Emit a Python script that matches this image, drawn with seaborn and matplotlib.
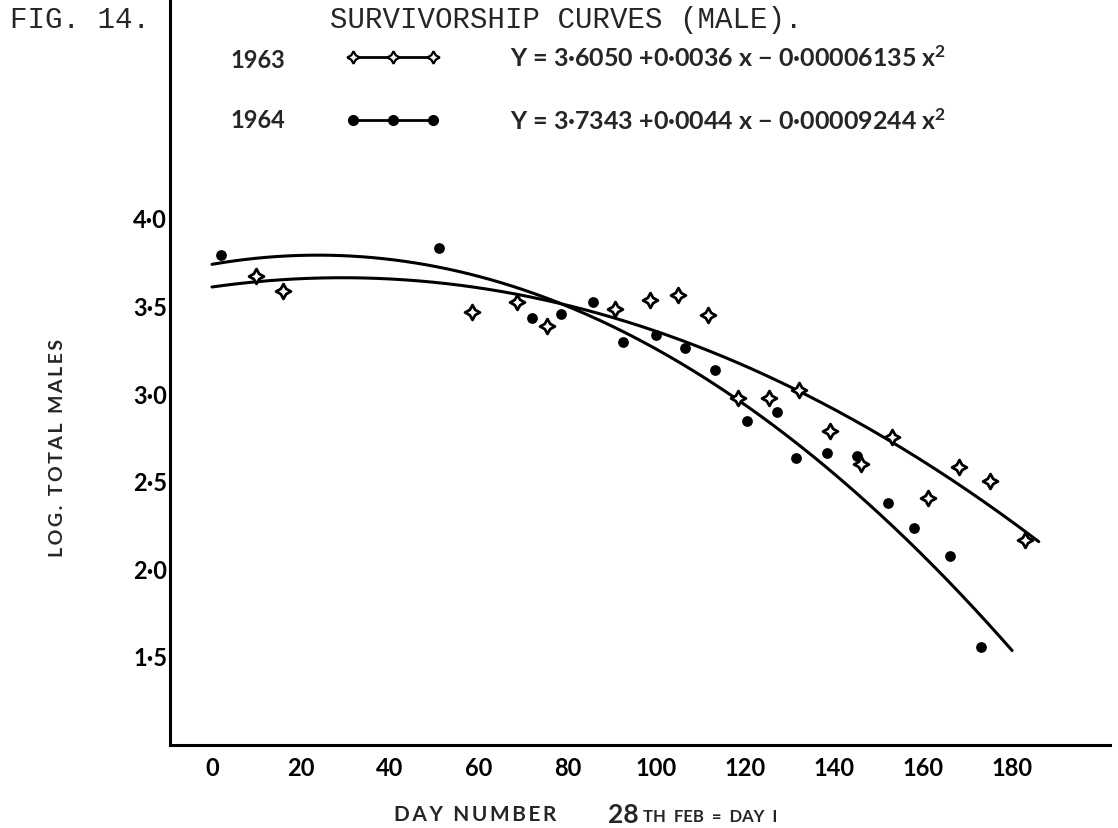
import numpy as np
import pandas as pd
import matplotlib
matplotlib.use("Agg")
import matplotlib.pyplot as plt
import seaborn as sns
from matplotlib.lines import Line2D

# ---- data ----
x_1963 = [10.0, 16.0, 58.4, 68.7, 75.4, 90.7, 98.5, 104.8, 111.5, 118.4, 125.4,
          132.1, 139.0, 145.9, 153.0, 161.0, 168.0, 175.0, 183.0]
y_1963 = [3.67, 3.58, 3.46, 3.52, 3.38, 3.48, 3.53, 3.56, 3.445, 2.97, 2.97,
          3.02, 2.785, 2.595, 2.75, 2.40, 2.58, 2.50, 2.16]
x_1964 = [2.0, 51.0, 72.1, 78.5, 85.8, 92.4, 99.8, 106.4, 113.2, 120.4, 127.2,
          131.3, 138.4, 145.0, 152.0, 158.0, 166.0, 173.0]
y_1964 = [3.79, 3.83, 3.43, 3.45, 3.52, 3.29, 3.33, 3.255, 3.13, 2.84, 2.89,
          2.63, 2.66, 2.64, 2.37, 2.23, 2.07, 1.55]
coef_1963 = [3.6050, 0.0036, -0.00006135]
coef_1964 = [3.7343, 0.0044, -0.00009244]
span_1963 = [0, 186]
span_1964 = [0, 180]
x_ticks = [0, 20, 40, 60, 80, 100, 120, 140, 160, 180]
y_ticks = [1.5, 2.0, 2.5, 3.0, 3.5, 4.0, 4.5]
y_tick_labels = ["1·5", "2·0", "2·5", "3·0", "3·5", "4·0", ""]
eq_1963 = "Y = 3·6050 +0·0036 x − 0·00006135 x$^{2}$"
eq_1964 = "Y = 3·7343 +0·0044 x − 0·00009244 x$^{2}$"

sns.set_theme(style="white")
plt.rcParams["font.family"] = ["Lato", "DejaVu Sans"]
plt.rcParams["font.weight"] = "bold"
plt.rcParams["mathtext.fontset"] = "custom"
plt.rcParams["mathtext.rm"] = "Lato:bold"
plt.rcParams["mathtext.it"] = "Lato:bold"
plt.rcParams["mathtext.bf"] = "Lato:bold"

W, H = 1118, 829
fig = plt.figure(figsize=(W / 100, H / 100), dpi=100)
fig.patch.set_facecolor("white")
L, R, B, T = 170, 1110, 746, 0
ax = fig.add_axes([L / W, 1 - B / H, (R - L) / W, (B - T) / H])
ax.set_facecolor("white")

df63 = pd.DataFrame({"day": x_1963, "log": y_1963})
df64 = pd.DataFrame({"day": x_1964, "log": y_1964})

def curve(coef, span):
    xs = np.linspace(span[0], span[1], 300)
    ys = coef[0] + coef[1] * xs + coef[2] * xs ** 2
    return pd.DataFrame({"day": xs, "log": ys})

c63 = curve(coef_1963, span_1963)
c64 = curve(coef_1964, span_1964)
sns.lineplot(data=c63, x="day", y="log", color="black", lw=2.2, ax=ax, sort=False)
sns.lineplot(data=c64, x="day", y="log", color="black", lw=2.2, ax=ax, sort=False)

star = (4, 1, 0)
sns.scatterplot(data=df63, x="day", y="log", marker=star, s=115,
                facecolor="white", edgecolor="black", linewidth=2.0, ax=ax, zorder=5)
sns.scatterplot(data=df64, x="day", y="log", marker="o", s=60,
                color="black", edgecolor="black", linewidth=0, ax=ax, zorder=5)

ax.set_xlim((L - 212) / 4.445, (R - 212) / 4.445)
ax.set_ylim(1.5 - (B - 657) / 175.3, 1.5 + (657 - T) / 175.3)
ax.set_xticks(x_ticks)
ax.set_xticklabels([str(v) for v in x_ticks])
ax.set_yticks(y_ticks)
ax.set_yticklabels(y_tick_labels)
ax.tick_params(axis="both", direction="in", length=14, width=2.2, color="black",
               labelsize=17, labelcolor="black")
ax.tick_params(axis="x", pad=8)
ax.tick_params(axis="y", pad=2)
for lab in ax.get_xticklabels() + ax.get_yticklabels():
    lab.set_fontweight("bold")
for s in ["top", "right"]:
    ax.spines[s].set_visible(False)
for s in ["left", "bottom"]:
    ax.spines[s].set_color("black")
    ax.spines[s].set_linewidth(2.2)
ax.set_xlabel("")
ax.set_ylabel("")

# legend
h63 = Line2D([], [], color="black", lw=2.0, marker=star, markersize=9,
             markerfacecolor="white", markeredgecolor="black", markeredgewidth=1.6)
h64 = Line2D([], [], color="black", lw=2.0, marker="o", markersize=7,
             markerfacecolor="black", markeredgecolor="black")
leg = ax.legend([h63, h64], [eq_1963, eq_1964], numpoints=3, frameon=False,
                loc="upper left", bbox_to_anchor=(345 / W, 1 - 45 / H),
                bbox_transform=fig.transFigure, borderpad=0, borderaxespad=0,
                handlelength=3.8, handletextpad=2.8, labelspacing=1.5,
                prop={"family": ["Lato", "DejaVu Sans"], "weight": "bold", "size": 18})

fig.text(230 / W, 1 - 60 / H, "1963", fontsize=17, fontweight="bold", va="center")
fig.text(230 / W, 1 - 120 / H, "1964", fontsize=17, fontweight="bold", va="center")

# header
mono = ["Liberation Mono", "DejaVu Sans Mono"]
fig.text(10 / W, 1 - 20 / H, "FIG. 14.", family=mono, fontsize=21,
         fontweight="normal", va="center")
fig.text(330 / W, 1 - 20 / H, "SURVIVORSHIP CURVES (MALE).", family=mono,
         fontsize=21, fontweight="normal", va="center")

def spaced(word):
    return "\u2009".join(word)

ylab = "  ".join(spaced(w) for w in ["LOG.", "TOTAL", "MALES"])
fig.text(58 / W, 1 - 448 / H, ylab, rotation=90, fontsize=14,
         fontweight="bold", ha="center", va="center")
xlab = "  ".join(spaced(w) for w in ["DAY", "NUMBER"])
fig.text(475 / W, 1 - 815 / H, xlab, fontsize=15, fontweight="bold",
         ha="center", va="center")
fig.text(608 / W, 1 - 815 / H, "28", fontsize=19, fontweight="bold",
         ha="left", va="center")
fig.text(643 / W, 1 - 817 / H, "TH  FEB  =  DAY  I", fontsize=12,
         fontweight="bold", ha="left", va="center")

fig.savefig("out.png", dpi=100, facecolor="white")
